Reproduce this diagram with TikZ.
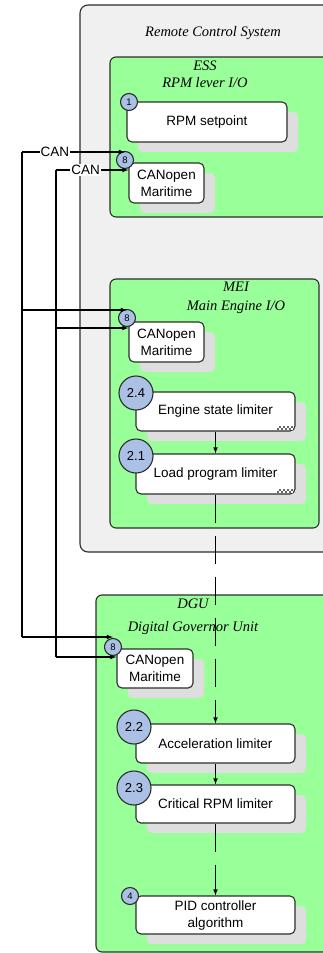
\documentclass[tikz,border=0pt]{standalone}
\usepackage{fontspec}
\setmainfont{Liberation Serif}
\setsansfont{Liberation Sans}
\usepackage{tikz}
\usetikzlibrary{arrows,shadows}

\definecolor{frame}{RGB}{45,45,45}
\definecolor{rcsgray}{RGB}{240,240,240}
\definecolor{unitgreen}{RGB}{153,255,153}
\definecolor{tagblue}{RGB}{170,192,228}
\definecolor{shade}{RGB}{222,222,222}

\newcommand{\submark}[1]{%
  \fill[white] ([xshift=-19pt,yshift=1.5pt]#1) rectangle ([xshift=-3pt,yshift=5.9pt]#1);
  \foreach \i in {0,...,7}
    \foreach \j in {0,1}
      {\pgfmathtruncatemacro{\odd}{mod(\i+\j,2)}
       \ifnum\odd=0
         \fill[black!60] ([xshift=-19pt+2*\i pt,yshift=1.5pt+2.2*\j pt]#1) rectangle +(2pt,2.2pt);
       \fi}%
}

\begin{document}
\begin{tikzpicture}[x=1pt, y=-1pt,
  unit/.style={draw=frame, fill=unitgreen, rounded corners=6pt, line width=1.1pt},
  func/.style={draw=frame, fill=white, rounded corners=5pt, line width=1.1pt,
    inner sep=0pt, align=center, font=\sffamily\fontsize{13.5}{17}\selectfont,
    drop shadow={shadow xshift=11pt, shadow yshift=-10pt, opacity=1, fill=shade, draw=none}},
  tag/.style={circle, draw=frame, fill=tagblue, inner sep=0pt, line width=1.1pt,
    minimum size=17pt, font=\sffamily\fontsize{9.5}{9.5}\selectfont},
  bigtag/.style={tag, minimum size=34pt, font=\sffamily\fontsize{13}{13}\selectfont},
  title/.style={font=\rmfamily\itshape\fontsize{14.5}{14.5}\selectfont},
  bus/.style={line width=1.1pt},
  flow/.style={-latex, line width=1.1pt},
  slowflow/.style={flow, dash pattern=on 28pt off 13pt},
]
\useasboundingbox (0,0) rectangle (322,953);

% enclosing systems
\draw[draw=frame, fill=rcsgray, rounded corners=8pt, line width=1.1pt] (80,5) rectangle (345,552);
\node[title] (rcs) at (213,33) {Remote Control System};

\draw[unit] (110,57) rectangle (345,217);
\node[title] (essA) at (205,66) {ESS};
\node[title] (essB) at (205,83) {RPM lever I/O};

\draw[unit] (110,279) rectangle (319,528);
\node[title] (meiA) at (236,287) {MEI};
\node[title] (meiB) at (236,307) {Main Engine I/O};

\draw[unit] (96,595) rectangle (345,952);
\node[title] (dguA) at (193,604) {DGU};
\node[title] (dguB) at (193,628) {Digital Governor Unit};

% functions
\node[func, minimum width=160pt, minimum height=40pt] (setpt) at (207,122) {RPM setpoint};
\node[func, minimum width=75pt, minimum height=40pt] (canE) at (166.5,183) {CANopen\\Maritime};

\node[func, minimum width=75pt, minimum height=40pt] (canM) at (166.5,342) {CANopen\\Maritime};
\node[func, minimum width=159pt, minimum height=39pt] (esl) at (215.5,411.5) {Engine state limiter};
\node[func, minimum width=159pt, minimum height=40pt] (lpl) at (215.5,474) {Load program limiter};

\node[func, minimum width=76pt, minimum height=39pt] (canD) at (155,668.5) {CANopen\\Maritime};
\node[func, minimum width=159pt, minimum height=39pt] (accl) at (215.5,743.5) {Acceleration limiter};
\node[func, minimum width=159pt, minimum height=38pt] (crit) at (215.5,804) {Critical RPM limiter};
\node[func, minimum width=159pt, minimum height=38pt] (pid) at (215.5,915) {PID controller\\algorithm};

% sub-diagram marks
\submark{esl.south east}
\submark{lpl.south east}

% numbers
\node[tag] (n1) at (129,102) {1};
\node[tag] (n8E) at (125,160) {8};
\node[tag] (n8M) at (127,318) {8};
\node[bigtag] (n24) at (136,393) {2.4};
\node[bigtag] (n21) at (136,456) {2.1};
\node[tag] (n8D) at (113,647) {8};
\node[bigtag] (n22) at (134,727) {2.2};
\node[bigtag] (n23) at (134,788) {2.3};
\node[tag] (n4) at (130,896) {4};

% CAN buses
\coordinate (a0) at (22,152);
\coordinate (a1) at (22,310);
\coordinate (a2) at (22,637);
\coordinate (b0) at (56,170);
\coordinate (b1) at (56,328);
\coordinate (b2) at (56,657);

\draw[bus] (a2) -- (a0);
\draw[bus] (b2) -- (b0);
\draw[flow] (a0) -- node[pos=0.32, fill=white, inner sep=1pt, font=\sffamily\fontsize{13.5}{13.5}\selectfont] {CAN} (a0 -| n8E.north);
\draw[flow] (b0) -- node[pos=0.41, fill=white, inner sep=1pt, font=\sffamily\fontsize{13.5}{13.5}\selectfont] {CAN} (b0 -| canE.west);
\draw[flow] (a1) -- (a1 -| n8M.north);
\draw[flow] (b1) -- (b1 -| canM.west);
\draw[flow] (a2) -- (a2 -| n8D.north);
\draw[flow] (b2) -- (b2 -| canD.west);
\fill (a1 -| b0) circle (1.4pt);
\fill (a2 -| b0) circle (1.4pt);

% limiter chain
\draw[flow] (esl) -- (lpl);
\draw[slowflow] (lpl) -- (accl);
\draw[flow] (accl) -- (crit);
\draw[slowflow] (crit) -- (pid);

\end{tikzpicture}
\end{document}
